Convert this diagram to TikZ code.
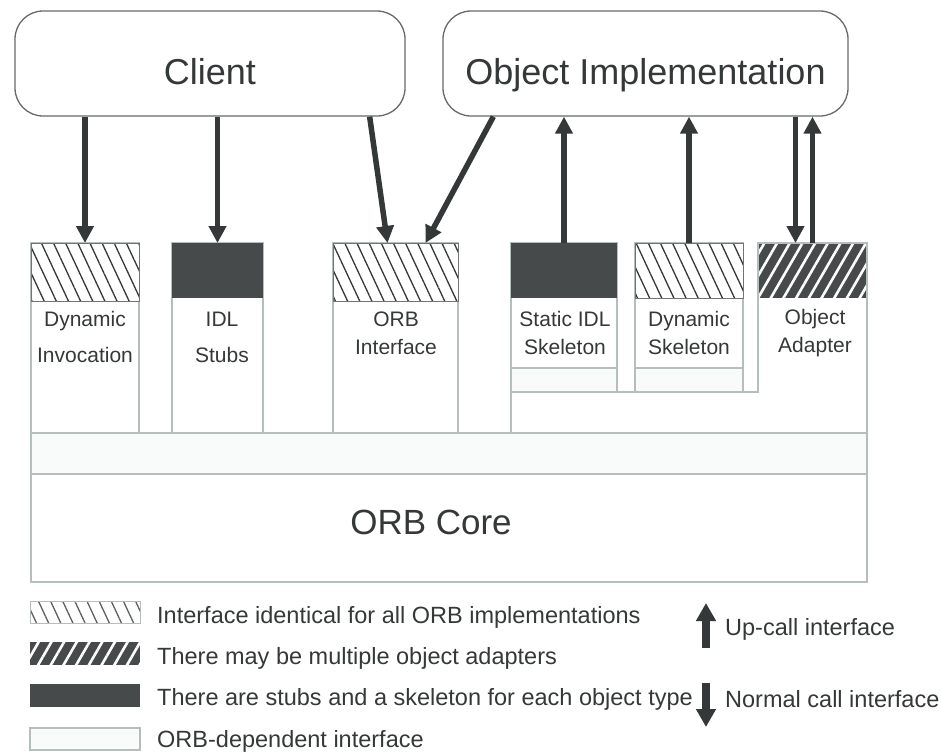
\documentclass[tikz,border=0pt]{standalone}
\usepackage{fontspec}
\setmainfont{Liberation Sans}
\usetikzlibrary{arrows.meta,patterns.meta,calc}
\definecolor{ink}{HTML}{353838}
\definecolor{slab}{HTML}{464A4B}
\definecolor{rim}{HTML}{B5BDBD}
\definecolor{faint}{HTML}{F9FAFA}

\begin{document}
\begin{tikzpicture}[x=1pt,y=-1pt,
  actor/.style={draw=ink!75, line width=1.3pt, rounded corners=28pt, minimum height=105pt,
    inner sep=0pt, text=ink, text height=49pt, text depth=8pt, font=\fontsize{36}{40}\selectfont},
  colbox/.style={draw=rim, line width=1.6pt, anchor=north west, inner sep=0pt, outer sep=0pt},
  hatchtop/.style={anchor=north west, inner sep=0pt, outer sep=0pt, draw=ink!70, line width=0.8pt,
    preaction={fill=white}, pattern={Lines[angle=-65,distance=11pt,line width=1.3pt]}, pattern color=ink},
  darktop/.style={anchor=north west, inner sep=0pt, outer sep=0pt, fill=slab},
  mixtop/.style={anchor=north west, inner sep=0pt, outer sep=0pt,
    preaction={fill=slab}, pattern={Lines[angle=60,distance=11pt,line width=2.6pt]}, pattern color=white},
  strip/.style={anchor=north west, inner sep=0pt, outer sep=0pt, draw=rim, line width=1.6pt, fill=faint},
  lbl/.style={text=ink, align=center, inner sep=0pt, font=\fontsize{21}{36}\selectfont},
  lbl2/.style={lbl, font=\fontsize{21}{28}\selectfont},
  keytxt/.style={text=ink, anchor=base west, inner sep=0pt, font=\fontsize{23.5}{28}\selectfont},
  arr/.style={draw=ink, line width=5.5pt, -{Triangle[length=17pt,width=17pt]}},
  keyarr/.style={draw=ink, line width=8pt, -{Triangle[length=18pt,width=19pt]}}
]
\useasboundingbox (0,0) rectangle (942,753);

% client and server side
\node[actor, minimum width=390pt] (client) at (210,63.5) {Client};
\node[actor, minimum width=405pt] (impl) at (645.5,63.5) {Object Implementation};

% ORB layers
\node[strip, minimum width=836pt, minimum height=41pt] (band) at (31,433) {};
\node[colbox, minimum width=836pt, minimum height=108pt] (core) at (31,474) {};
\node[text=ink, font=\fontsize{35}{40}\selectfont] (corelbl) at (431,522) {ORB Core};

% client side interfaces
\node[colbox, minimum width=108pt, minimum height=190pt] (dinv) at (31,243) {};
\node[hatchtop, minimum width=108pt, minimum height=58pt] (dinvtop) at (31,243) {};
\node[lbl] (dinvlbl) at (85,337) {Dynamic\\Invocation};

\node[colbox, minimum width=91pt, minimum height=190pt] (stubs) at (172,243) {};
\node[darktop, minimum width=91pt, minimum height=55pt] (stubstop) at (172,243) {};
\node[lbl] (stubslbl) at (222,337) {IDL\\Stubs};

\node[colbox, minimum width=125pt, minimum height=190pt] (orbif) at (333,243) {};
\node[hatchtop, minimum width=125pt, minimum height=58pt] (orbiftop) at (333,243) {};
\node[lbl2] (orbiflbl) at (396,333) {ORB\\Interface};

% server side interfaces
\node[colbox, minimum width=106pt, minimum height=149pt] (sskel) at (511,243) {};
\node[darktop, minimum width=106pt, minimum height=55pt] (sskeltop) at (511,243) {};
\node[strip, minimum width=106pt, minimum height=24pt] (sskelstrip) at (511,368) {};
\node[lbl2] (sskellbl) at (565,333) {Static IDL\\Skeleton};

\node[colbox, minimum width=108pt, minimum height=149pt] (dskel) at (635,243) {};
\node[hatchtop, minimum width=108pt, minimum height=55pt] (dskeltop) at (635,243) {};
\node[strip, minimum width=108pt, minimum height=24pt] (dskelstrip) at (635,368) {};
\node[lbl2] (dskellbl) at (689,333) {Dynamic\\Skeleton};

\node[anchor=north west, inner sep=0pt, outer sep=0pt, minimum width=109pt, minimum height=190pt] (oadapt) at (758,243) {};
\node[mixtop, minimum width=109pt, minimum height=55pt] (oadapttop) at (758,243) {};
\node[lbl2] (oadaptlbl) at (815,333) {Object\\Adapter};
\draw[rim, line width=1.6pt] (sskel.south west) -- (sskel.south west |- band.north);
\draw[rim, line width=1.6pt] (sskel.south east) -- (dskel.south west);
\draw[rim, line width=1.6pt] (dskel.south east) -- (oadapt.north west |- dskel.south)
  -- (oadapt.north west) -- (oadapt.north east) -- (oadapt.south east);

% calls
\coordinate (cslant) at ($(client.south east)+(-36,0)$);
\coordinate (islant) at ($(impl.south west)+(51,0)$);
\coordinate (oadown) at ($(oadapt.north)+(-17,0)$);
\draw[arr] (client.south -| dinv.north) -- (dinv.north);
\draw[arr] (client.south -| stubs.north) -- (stubs.north);
\draw[arr] (cslant) -- ($(orbif.north)+(-8,0)$);
\draw[arr] (islant) -- ($(orbif.north)+(30,0)$);
\draw[arr] (sskel.north) -- (sskel.north |- impl.south);
\draw[arr] (dskel.north) -- (dskel.north |- impl.south);
\draw[arr] (oadown |- impl.south) -- (oadown);
\draw[arr] (oadapt.north) -- (oadapt.north |- impl.south);

% legend
\node[hatchtop, draw=rim, pattern color=ink!80, minimum width=110pt, minimum height=22pt] (key1) at (30,601) {};
\node[mixtop, minimum width=110pt, minimum height=23pt] (key2) at (30,642) {};
\node[darktop, minimum width=110pt, minimum height=23pt] (key3) at (30,684) {};
\node[strip, minimum width=110pt, minimum height=22pt] (key4) at (30,728) {};
\node[keytxt] (key1txt) at (157,623) {Interface identical for all ORB implementations};
\node[keytxt] (key2txt) at (157,664) {There may be multiple object adapters};
\node[keytxt] (key3txt) at (157,705) {There are stubs and a skeleton for each object type};
\node[keytxt] (key4txt) at (157,747) {ORB-dependent interface};

\coordinate (upfoot) at (706,648);
\coordinate (uptip) at (706,603);
\coordinate (downfoot) at (706,683);
\coordinate (downtip) at (706,727);
\draw[keyarr] (upfoot) -- (uptip);
\draw[keyarr] (downfoot) -- (downtip);
\node[keytxt] (uptxt) at (725,635) {Up-call interface};
\node[keytxt] (downtxt) at (725,707) {Normal call interface};
\end{tikzpicture}
\end{document}
